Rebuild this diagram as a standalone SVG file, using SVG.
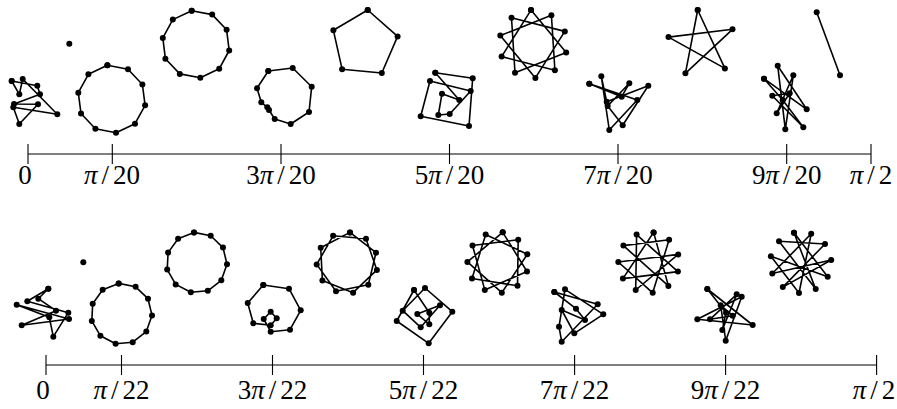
<svg xmlns="http://www.w3.org/2000/svg" width="897" height="409" viewBox="0 0 897 409">
<style>
.p{fill:none;stroke:#000;stroke-width:1.6;stroke-linejoin:round;marker-start:url(#dot);marker-mid:url(#dot);marker-end:url(#dot)}
.ax{stroke:#000;stroke-width:1.1;fill:none}
.lb{font-family:"Liberation Serif","DejaVu Serif",serif;font-size:27px;fill:#000;text-anchor:middle}
.pi{font-style:italic}
</style>
<defs>
<marker id="dot" markerUnits="userSpaceOnUse" markerWidth="8" markerHeight="8" refX="4" refY="4" overflow="visible"><circle cx="4" cy="4" r="3" fill="#000"/></marker>
</defs>
<g id="axis-top">
<path class="ax" d="M28 154H871M28 144V164M112.3 144V164M281 144V164M449.5 144V164M618 144V164M786.7 144V164M871 144V164"/>
<text class="lb" x="25" y="184">0</text>
<text class="lb" x="112" y="184"><tspan class="pi">π</tspan><tspan dx="4">/</tspan><tspan dx="4">20</tspan></text>
<text class="lb" x="281" y="184">3<tspan class="pi">π</tspan><tspan dx="4">/</tspan><tspan dx="4">20</tspan></text>
<text class="lb" x="449.5" y="184">5<tspan class="pi">π</tspan><tspan dx="4">/</tspan><tspan dx="4">20</tspan></text>
<text class="lb" x="618" y="184">7<tspan class="pi">π</tspan><tspan dx="4">/</tspan><tspan dx="4">20</tspan></text>
<text class="lb" x="786.7" y="184">9<tspan class="pi">π</tspan><tspan dx="4">/</tspan><tspan dx="4">20</tspan></text>
<text class="lb" x="871" y="184"><tspan class="pi">π</tspan><tspan dx="4">/</tspan><tspan dx="4">2</tspan></text>
</g>
<g id="axis-bottom">
<path class="ax" d="M46 365H876.6M46 355V375M121.5 355V375M272.5 355V375M423.5 355V375M574.6 355V375M725.6 355V375M876.6 355V375"/>
<text class="lb" x="43" y="399">0</text>
<text class="lb" x="121.5" y="399"><tspan class="pi">π</tspan><tspan dx="4">/</tspan><tspan dx="4">22</tspan></text>
<text class="lb" x="272.5" y="399">3<tspan class="pi">π</tspan><tspan dx="4">/</tspan><tspan dx="4">22</tspan></text>
<text class="lb" x="423.5" y="399">5<tspan class="pi">π</tspan><tspan dx="4">/</tspan><tspan dx="4">22</tspan></text>
<text class="lb" x="574.6" y="399">7<tspan class="pi">π</tspan><tspan dx="4">/</tspan><tspan dx="4">22</tspan></text>
<text class="lb" x="725.6" y="399">9<tspan class="pi">π</tspan><tspan dx="4">/</tspan><tspan dx="4">22</tspan></text>
<text class="lb" x="874" y="399"><tspan class="pi">π</tspan><tspan dx="4">/</tspan><tspan dx="4">2</tspan></text>
</g>
<g id="t0"><polygon class="p" points="11.7,81 19.3,94.3 22.7,79 57.3,114.3 13.3,107.3 19.3,124 38,104.3 14,104 40,94.3 37.3,85.7"/></g>
<g id="t0a"><circle cx="69.3" cy="43.7" r="3"/></g>
<g id="t1"><polygon class="p" points="107.4,65.3 128,69.2 142.4,84.5 145.1,105.3 135,123.7 116,132.7 95.4,128.8 81,113.5 78.3,92.7 88.4,74.3"/></g>
<g id="t2"><polygon class="p" points="191.7,10.7 212.2,14.6 226.6,29.8 229.2,50.5 219.2,68.8 200.3,77.7 179.8,73.9 165.4,58.7 162.8,37.9 172.8,19.6"/></g>
<g id="t3"><polygon class="p" points="268.3,71 292.7,68 311.7,86.7 309,112 290.7,124 274.7,119 269,110 267.3,107.3 261.3,102.3 257,88.3"/></g>
<g id="t4"><polygon class="p" points="367.7,10 397.6,36.4 381.8,73 342.1,69.2 333.4,30.3"/></g>
<g id="t5"><polygon class="p" points="435.3,72.7 472.7,78.3 469,126 420.7,116.3 430,81 470.7,91 449.7,114 438.3,115 442,93.7 459.3,100"/></g>
<g id="t6"><polygon class="p" points="531,10.1 566.2,52.4 515,72.7 511.5,17.8 564.8,31.4 535.4,77.9 500.3,35.6 551.4,15.3 554.9,70.2 501.6,56.6"/></g>
<g id="t7"><polygon class="p" points="589.3,83.7 637.3,100 609.3,130 601.3,76.3 606.7,101.7 648.3,85.7 622.7,125.3 607.7,106 629.3,83.3 621.7,96.7"/></g>
<g id="t8"><polygon class="p" points="697.7,10 724.9,68.4 668.5,37.1 732.5,29.3 685.4,73.3"/></g>
<g id="t9"><polygon class="p" points="764,78.7 806.7,109.3 777.7,65.7 785.3,129.3 793.3,75.3 776.7,113.3 789.7,93.3 772.3,95.7 803.3,127.3 782.7,100"/></g>
<g id="t9a"><polyline class="p" points="816.7,12.3 840,75.3"/></g>
<g id="b0"><polygon class="p" points="48.3,288.7 27.3,301.3 68.3,312.7 53.3,336.7 49.3,317.3 16.7,304.7 69,319 21.7,325.3 56,310.7 38.3,298.7"/></g>
<g id="b0a"><circle cx="83.3" cy="262.3" r="3"/></g>
<g id="b1"><polygon class="p" points="118.7,283.4 135.6,286.8 148,298.7 152,315.4 146.3,331.6 132.7,342.2 115.6,343.7 100.4,335.8 91.8,320.9 92.7,303.7 102.7,289.8"/></g>
<g id="b2"><polygon class="p" points="194,232.4 210.7,235.7 223,247.6 227,264.2 221.3,280.3 207.8,290.8 190.8,292.3 175.7,284.4 167.2,269.6 168.1,252.6 178.1,238.7"/></g>
<g id="b3"><polygon class="p" points="263.3,285 289,288.7 300.7,310.3 290,329.7 270.7,331.7 263.7,319 270.7,311.7 276.7,318.3 270.7,325.3 253.3,323.3 247.7,303"/></g>
<g id="b4"><polygon class="p" points="350,232.4 376,252.7 368.3,284.8 336,291.2 316.7,264.4 333.1,235.8 366,238.8 376.9,269.9 353.1,292.7 322.4,280.6 320.7,247.7"/></g>
<g id="b5"><polygon class="p" points="414,290 396.7,321 428.7,343.3 452.3,311.7 425,288 402.7,310.7 420.7,327.3 440,305.3 417.3,314 429.3,324.3 429.3,312.7"/></g>
<g id="b6"><polygon class="p" points="502.7,232.3 527,271.5 484.8,289.9 472.5,245.5 518.2,239.7 517.5,285.8 472,278.5 485.7,234.5 527.3,254.3 501.8,292.7 467.4,261.9"/></g>
<g id="b7"><polygon class="p" points="554.3,292 597.7,304.3 561.7,341.7 559,326.7 565,289.3 603.3,314.3 574.3,333.3 561.7,310 585,320 576,308.7"/></g>
<g id="b8"><polygon class="p" points="653.6,232.4 668.4,285.9 623.4,245.6 669.1,239.8 652.7,292.8 618.3,262 678.2,254.4 635.7,290 636.6,234.6 677.9,271.6 622.9,278.6"/></g>
<g id="b9"><polygon class="p" points="707.3,289 752.7,325 697.3,319.3 741.7,296.7 725.7,340.7 720.7,305.3 732.7,315.7 710,319.3 736.7,294.3 722.3,330 726,312.7"/></g>
<g id="b10"><polygon class="p" points="794,232.8 815.7,289.1 779,241.2 825,244 782.8,287.1 831.2,260 772.3,273.5 811.2,233.8 799,293 770.9,256.3 827.7,276.8"/></g>
</svg>
